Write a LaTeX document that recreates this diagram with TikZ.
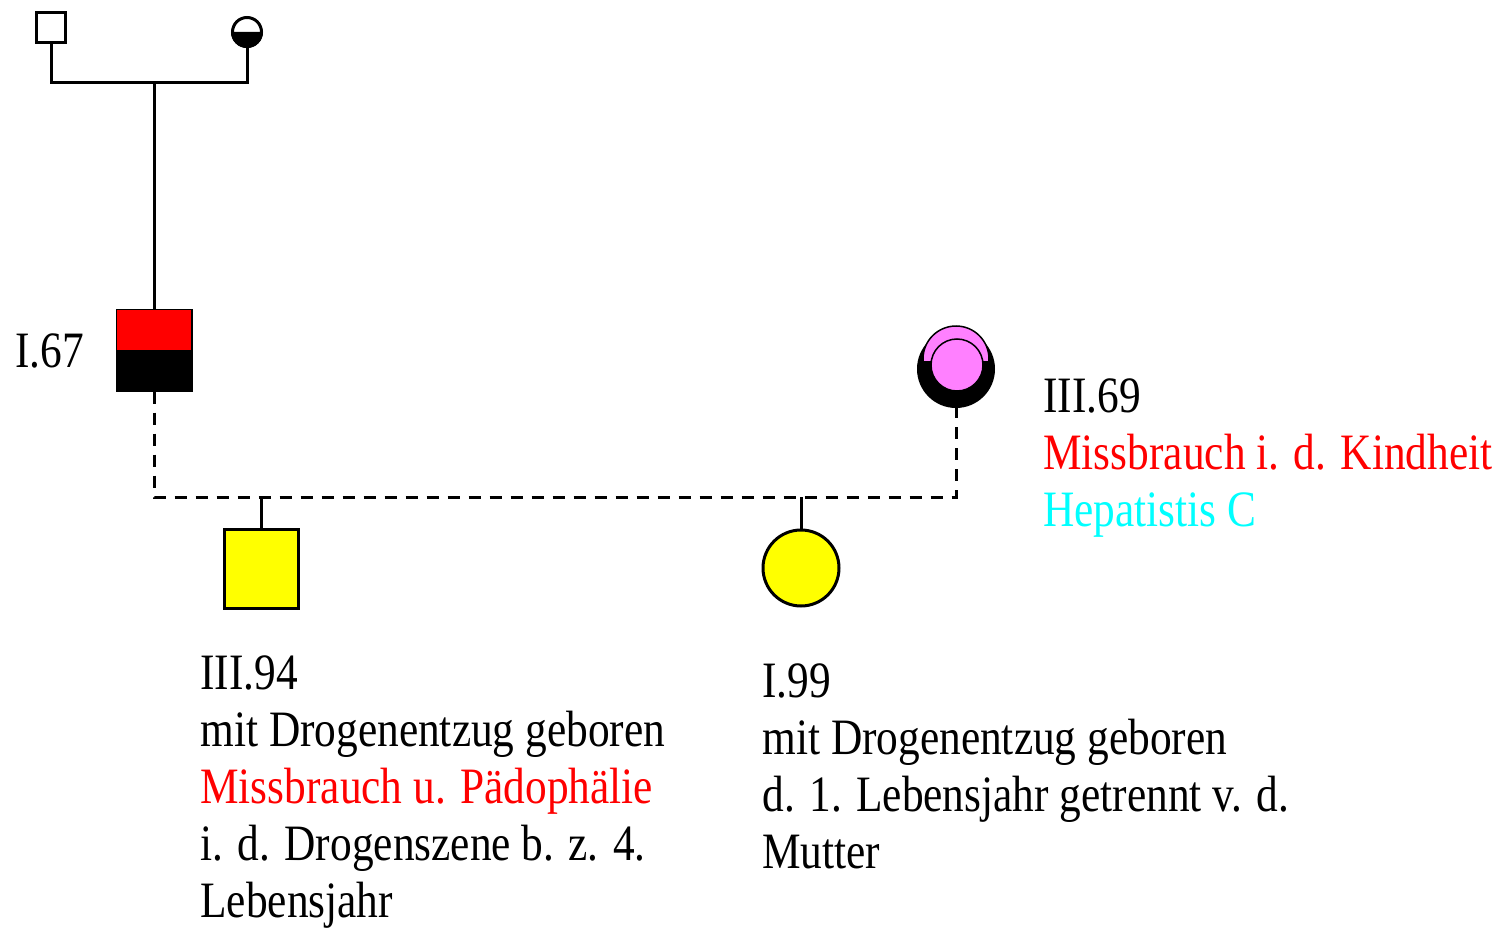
\documentclass[tikz,border=0pt]{standalone}
\usepackage{fontspec}
\setmainfont[FakeStretch=0.85]{Liberation Serif}
\definecolor{symPink}{RGB}{255,128,255}
\definecolor{symCyan}{RGB}{0,255,255}
\definecolor{symYellow}{RGB}{255,255,0}
\newcommand{\personLines}[1]{\begin{tabular}[t]{@{}l@{}}#1\end{tabular}}

\begin{document}
\begin{tikzpicture}
[x=0.5pt,y=-0.5pt,
  lineDecorate/.style={-,line width=1.5pt},
  dashDecorate/.style={lineDecorate,dash pattern=on 6pt off 4.5pt},
  maleDecorate/.style={shape=rectangle,draw,line width=1.5pt,inner sep=0pt,minimum width=37pt,minimum height=39.5pt},
  femaleDecorate/.style={shape=circle,draw,line width=1.5pt,inner sep=0pt,minimum size=38pt},
  textDecorate/.style={anchor=base west,inner sep=0pt,font=\fontsize{25.5}{28.5}\selectfont}]
\useasboundingbox (0,0) rectangle (1506,931);
%% nodes or persons
\node (gf) at (51,28) [maleDecorate,minimum width=14.5pt,minimum height=15pt,fill=white] {};
\node (gm) at (247,32) [femaleDecorate,minimum size=14.5pt,fill=white] {};
\fill (gm.west) arc[start angle=180,end angle=0,radius=16] -- cycle;
\node (p67) at (154,350) [maleDecorate,minimum height=40pt,fill=black] {};
\fill[red] ([xshift=0.75pt,yshift=-0.75pt]p67.north west) rectangle ([xshift=-0.75pt]p67.east);
\node (p94) at (261,569) [maleDecorate,fill=symYellow] {};
\node (p99) at (801,568) [femaleDecorate,fill=symYellow] {};
\node (p69) at (956,369) [femaleDecorate,minimum size=37.5pt,fill=black] {};
\begin{scope}
  \clip (900,300) rectangle (1010,360);
  \filldraw[fill=symPink,line width=0.75pt] (p69) ++(0,-10) circle[radius=33];
\end{scope}
\filldraw[fill=symPink,line width=0.75pt] (p69) ++(1,-4) circle[radius=26];
%% edges or lines
\coordinate (mate) at (154,83);
\coordinate (sibs) at (555,497);
\draw[lineDecorate] (gf.south) |- (mate) -| (gm.south);
\draw[lineDecorate] (mate) -- (p67.north);
\draw[dashDecorate] (p67.south) |- (sibs) -| (p69.south);
\foreach \kid in {p94,p99}
{
  \draw[lineDecorate] (\kid.north) -- (\kid.north |- sibs);
}
%% labels
\node (t67) at (15,367) [textDecorate] {I.67};
\node (t94) at (200,689) [textDecorate] {\personLines{III.94\\mit Drogenentzug geboren\\\textcolor{red}{Missbrauch u. Pädophälie}\\i. d. Drogenszene b. z. 4.\\Lebensjahr}};
\node (t99) at (762,697) [textDecorate] {\personLines{I.99\\mit Drogenentzug geboren\\d. 1. Lebensjahr getrennt v. d.\\Mutter}};
\node (t69) at (1043,412) [textDecorate] {\personLines{III.69\\\textcolor{red}{Missbrauch i. d. Kindheit}\\\textcolor{symCyan}{Hepatistis C}}};
\end{tikzpicture}
\end{document}
